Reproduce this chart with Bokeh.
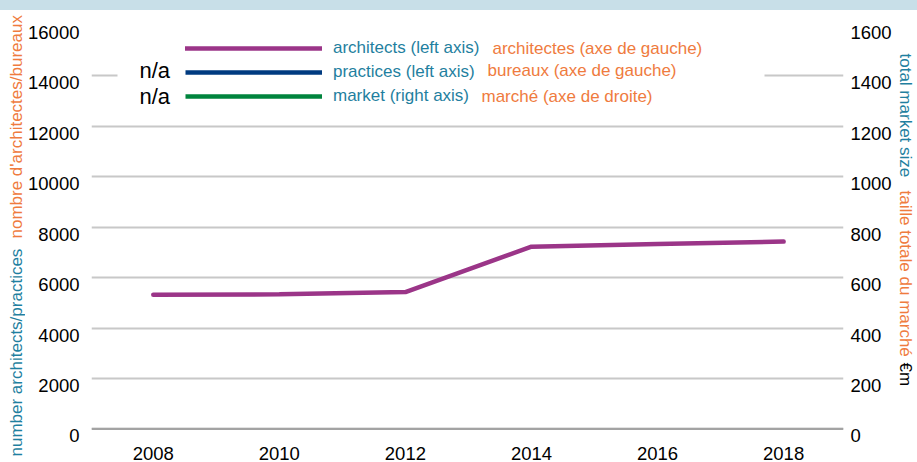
import math
from bokeh.plotting import figure
from bokeh.layouts import row, column
from bokeh.models import (LinearAxis, Range1d, FixedTicker, Legend, LegendItem,
                          Label, Span, BoxAnnotation, Div, CustomJSTickFormatter)
from bokeh.embed import file_html
from bokeh.resources import INLINE

# ---------------- data ----------------
years = [2008, 2010, 2012, 2014, 2016, 2018]
architects = [5320, 5340, 5430, 7230, 7330, 7430]
practices = [float("nan")] * 6   # n/a
market = [float("nan")] * 6      # n/a

left_ticks = [0, 2000, 4000, 6000, 8000, 10000, 12000, 14000, 16000]
right_ticks = [0, 200, 400, 600, 800, 1000, 1200, 1400, 1600]
x_ticks = [2008, 2010, 2012, 2014, 2016, 2018]

legend_en = ["architects (left axis)", "practices (left axis)", "market (right axis)"]
legend_fr = ["architectes (axe de gauche)", "bureaux (axe de gauche)", "marché (axe de droite)"]
left_title = ["number architects/practices", "nombre d'architectes/bureaux"]
right_title = ["total market size", "taille totale du marché", "€m"]
na_text = "n/a"

# ---------------- style ----------------
PURPLE = "#9b3588"
BLUE = "#003b80"
GREEN = "#00843d"
TEAL = "#1f7fa0"
ORANGE = "#ef7b3e"
GRID = "#c8c8c8"
STRIP = "#c8dfe8"
FONT = "Liberation Sans"

H = 452
# tick labels sit with their top at the grid line: shift label ticks by ~7px
SHIFT_L = 278.0
SHIFT_R = SHIFT_L / 10.0

p = figure(width=870, height=H,
           x_range=Range1d(2007.02, 2018.95), y_range=Range1d(-300, 16000),
           output_backend="svg", toolbar_location=None, frame_align=False,
           min_border_left=64, min_border_right=52,
           min_border_top=15, min_border_bottom=26)
p.extra_y_ranges = {"right": Range1d(-30, 1600)}
p.add_layout(LinearAxis(y_range_name="right"), "right")

p.outline_line_color = None
p.background_fill_color = "white"
p.border_fill_color = "white"
p.xgrid.grid_line_color = None
p.ygrid.ticker = FixedTicker(ticks=left_ticks)
p.ygrid.grid_line_color = GRID
p.ygrid.grid_line_width = 2

for ax in p.axis:
    ax.axis_line_color = None
    ax.major_tick_line_color = None
    ax.minor_tick_line_color = None
    ax.major_tick_out = 0
    ax.major_tick_in = 0
    ax.minor_tick_out = 0
    ax.minor_tick_in = 0
    ax.major_label_text_font = FONT
    ax.major_label_text_font_size = "18.5px"
    ax.major_label_text_color = "#000000"

p.xaxis.ticker = FixedTicker(ticks=x_ticks)
p.xaxis.major_label_standoff = 10
p.yaxis[0].ticker = FixedTicker(ticks=[t - SHIFT_L for t in left_ticks])
p.yaxis[0].formatter = CustomJSTickFormatter(args=dict(d=SHIFT_L),
                                             code="return String(Math.round(tick + d));")
p.yaxis[0].major_label_standoff = 12
p.yaxis[1].ticker = FixedTicker(ticks=[t - SHIFT_R for t in right_ticks])
p.yaxis[1].formatter = CustomJSTickFormatter(args=dict(d=SHIFT_R),
                                             code="return String(Math.round(tick + d));")
p.yaxis[1].major_label_standoff = 7

p.add_layout(Span(location=0, dimension="width", line_color="#a3a3a3", line_width=2))

# ---------------- series ----------------
r_arch = p.line(years, architects, line_color=PURPLE, line_width=4.5, line_cap="round")
r_prac = p.line(years, practices, line_color=BLUE, line_width=4.5)
r_mkt = p.line(years, market, line_color=GREEN, line_width=4.5, y_range_name="right")

# white panel behind legend
p.add_layout(BoxAnnotation(left=26, right=673, bottom=316, top=406,
                           left_units="screen", right_units="screen",
                           bottom_units="screen", top_units="screen",
                           fill_color="white", fill_alpha=1.0, line_color=None))

legend = Legend(items=[LegendItem(label=legend_en[0], renderers=[r_arch]),
                       LegendItem(label=legend_en[1], renderers=[r_prac]),
                       LegendItem(label=legend_en[2], renderers=[r_mkt])],
                location=(94, 330), glyph_width=137, glyph_height=20,
                label_height=20, spacing=4, padding=0, margin=0,
                label_standoff=11, label_text_font=FONT,
                label_text_font_size="17px", label_text_color=TEAL,
                background_fill_alpha=0, border_line_color=None)
p.add_layout(legend)

fr_x = [401, 396, 390]
row_y = [388, 366, 340]
for txt, x, y in zip(legend_fr, fr_x, row_y):
    p.add_layout(Label(x=x, y=y, x_units="screen", y_units="screen", text=txt,
                       text_font=FONT, text_font_size="17px", text_color=ORANGE,
                       text_baseline="middle", text_align="left"))
for y in row_y[1:]:
    p.add_layout(Label(x=48, y=y, x_units="screen", y_units="screen", text=na_text,
                       text_font=FONT, text_font_size="22px", text_color="#000000",
                       text_baseline="middle", text_align="left"))


def strip(width):
    f = figure(width=width, height=H, x_range=Range1d(0, width), y_range=Range1d(0, H),
               output_backend="svg", toolbar_location=None, frame_align=False,
               x_axis_location=None, y_axis_location=None, min_border=0)
    f.grid.grid_line_color = None
    f.outline_line_color = None
    f.background_fill_color = "white"
    f.border_fill_color = "white"
    return f


# left axis title (two languages, two colours)
lt = strip(25)
lt.add_layout(Label(x=15.5, y=6, x_units="screen", y_units="screen", text=left_title[0],
                    angle=math.pi / 2, text_font=FONT, text_font_size="17px",
                    text_color=TEAL, text_baseline="middle", text_align="left"))
lt.add_layout(Label(x=15.5, y=224, x_units="screen", y_units="screen", text=left_title[1],
                    angle=math.pi / 2, text_font=FONT, text_font_size="17px",
                    text_color=ORANGE, text_baseline="middle", text_align="left"))

# right axis title
rt = strip(22)
for txt, y, c in zip(right_title, [409, 272, 100], [TEAL, ORANGE, "#000000"]):
    rt.add_layout(Label(x=10, y=y, x_units="screen", y_units="screen", text=txt,
                        angle=-math.pi / 2, text_font=FONT, text_font_size="17px",
                        text_color=c, text_baseline="middle", text_align="left"))

top_strip = Div(text="", width=917, height=10, margin=0,
                styles={"background-color": STRIP})
layout = column(top_strip, row(lt, p, rt))

open("out.html", "w").write(file_html(layout, INLINE))
